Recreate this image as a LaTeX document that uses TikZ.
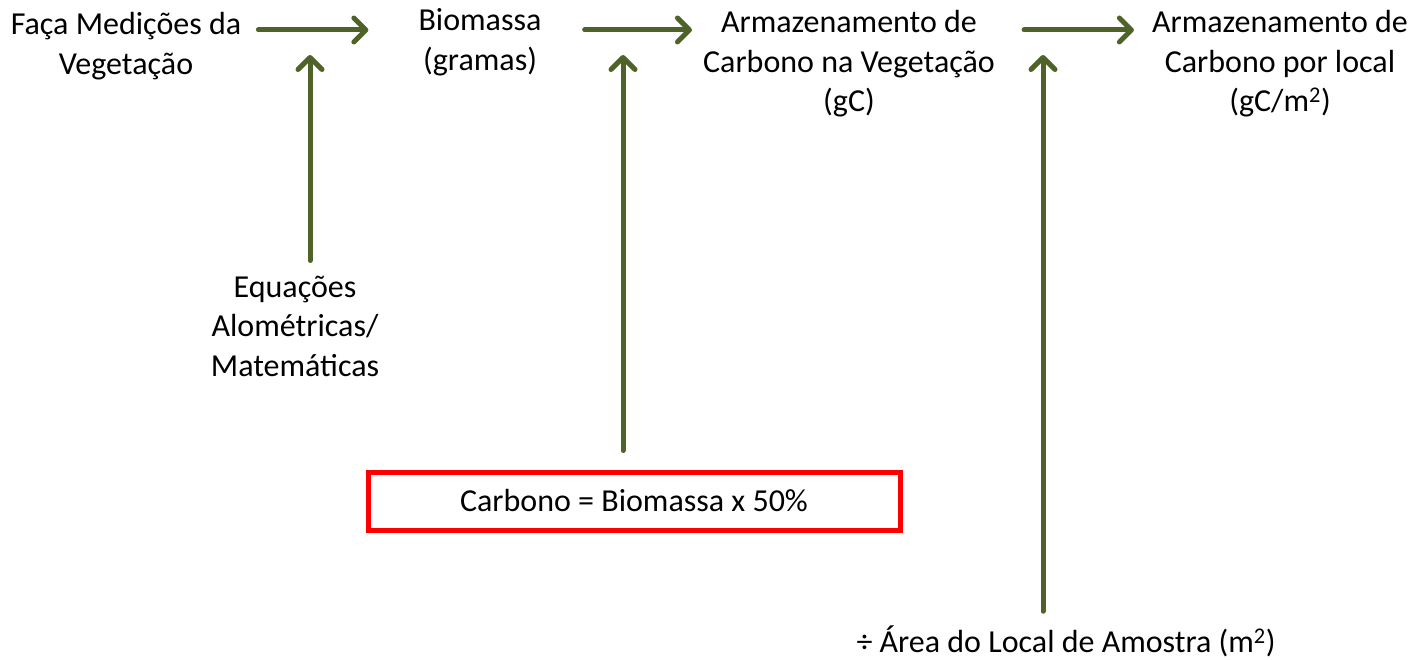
\documentclass[tikz,border=0pt]{standalone}
\usepackage{fontspec}
\setmainfont{Carlito}
\usetikzlibrary{arrows.meta}
\definecolor{olive}{RGB}{79,98,40}
\definecolor{boxred}{RGB}{255,0,0}
\newcommand\txt[4]{\node[lbl] (#1) at (#2,#3) {#4};}

\begin{document}
\begin{tikzpicture}[x=1pt,y=-1pt,
  lbl/.style={align=center, inner sep=0pt, font=\fontsize{32}{39.5}\selectfont},
  flow/.style={draw=olive, line width=5pt, line cap=round,
    -{Straight Barb[length=12pt,width=24pt,line cap=round,line join=round]}}]
\useasboundingbox (0,0) rectangle (1410,660);

\txt{faca}{126}{46}{Faça Medições da\\Vegetação}
\txt{bio}{480}{42}{Biomassa\\(gramas)}
\txt{armveg}{849}{64}{Armazenamento de\\Carbono na Vegetação\\(gC)}
\txt{armloc}{1280}{64}{Armazenamento de\\Carbono por local\\(gC/m\textsuperscript{2})}
\txt{equa}{295}{326}{Equações\\Alométricas/\\Matemáticas}
\txt{area}{1066}{641}{÷ Área do Local de Amostra (m\textsuperscript{2})}
\node[lbl, draw=boxred, fill=white, line width=5pt, minimum width=532pt,
  minimum height=58pt] (carb) at (634,501) {Carbono = Biomassa x 50\%};

\coordinate (row) at (0,30);
\coordinate (top) at (0,55);

% horizontal
\draw[flow] ([xshift=17pt]faca.east |- row) -- ([xshift=-50pt]bio.west |- row);
\draw[flow] ([xshift=43pt]bio.east |- row) -- ([xshift=-11pt]armveg.west |- row);
\draw[flow] ([xshift=29pt]armveg.east |- row) -- ([xshift=-18pt]armloc.west |- row);

% vertical
\draw[flow] ([xshift=15pt,yshift=15pt]equa.north) -- ([xshift=15pt]equa.north |- top);
\draw[flow] ([xshift=-11pt,yshift=19pt]carb.north) -- ([xshift=-11pt]carb.north |- top);
\draw[flow] ([xshift=-23pt,yshift=14pt]area.north) -- ([xshift=-23pt]area.north |- top);

\end{tikzpicture}
\end{document}
